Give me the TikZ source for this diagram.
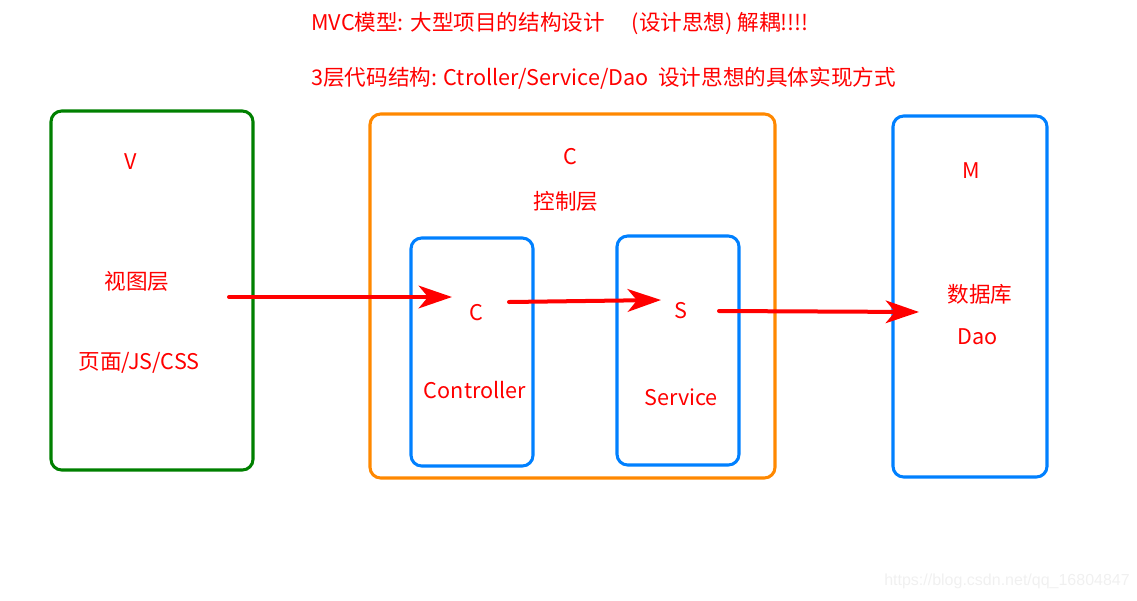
\documentclass[tikz,border=0pt]{standalone}
\usepackage{fontspec}
\setmainfont{Noto Sans CJK SC}
\newfontfamily\wmfont{Liberation Sans}
\usetikzlibrary{arrows.meta}

\definecolor{vgreen}{RGB}{0,128,0}
\definecolor{corange}{RGB}{255,136,0}
\definecolor{mblue}{RGB}{0,128,255}

\tikzset{
  layerbox/.style={line width=2.3pt, rounded corners=8pt},
  txt/.style={text=red, font=\fontsize{16.2}{19}\selectfont, inner sep=0pt},
  flow/.style={red, line width=3pt, line cap=round,
    -{Stealth[length=25pt, width=17pt, inset=7pt]}}
}

\begin{document}
\begin{tikzpicture}[x=0.75pt, y=-0.75pt]
  \useasboundingbox (0,0) rectangle (1137,600);
  % Headings
  \node[txt, anchor=west] (head1) at (311,24) {MVC模型: 大型项目的结构设计\hspace{1.25em}(设计思想) 解耦!!!!};
  \node[txt, anchor=west] (head2) at (311,78) {3层代码结构: Ctroller/Service/Dao\ \ 设计思想的具体实现方式};
  % View layer
  \draw[layerbox, vgreen] (51,111) rectangle (253,470);
  \node[txt] (vname) at (131,162) {V};
  \node[txt] (vlayer) at (137,281) {视图层};
  \node[txt] (vpage) at (139,363) {页面/JS/CSS};
  % Control layer
  \draw[layerbox, corange] (370,114) rectangle (775,478);
  \node[txt] (cname) at (570,157) {C};
  \node[txt] (clayer) at (566,201) {控制层};
  \draw[layerbox, mblue] (411,238) rectangle (533,466);
  \node[txt] (ctrl) at (476,313) {C};
  \node[txt] (ctrlname) at (475,390) {Controller};
  \draw[layerbox, mblue] (617,236) rectangle (739,465);
  \node[txt] (serv) at (681,311) {S};
  \node[txt] (servname) at (681,397) {Service};
  % Model layer
  \draw[layerbox, mblue] (893,116) rectangle (1047,477);
  \node[txt] (mname) at (971,171) {M};
  \node[txt] (mdb) at (980,294) {数据库};
  \node[txt] (mdao) at (978,337) {Dao};
  % Flow arrows
  \coordinate (a1s) at (229,297);
  \coordinate (a1e) at (452,297);
  \coordinate (a2s) at (509,302);
  \coordinate (a2e) at (661,300);
  \coordinate (a3s) at (719,311);
  \coordinate (a3e) at (919,312);
  \draw[flow] (a1s) -- (a1e);
  \draw[flow] (a2s) -- (a2e);
  \draw[flow] (a3s) -- (a3e);
  % Watermark
  \node[text=black!6, font=\wmfont\fontsize{12}{14}\selectfont, inner sep=0pt] (wm) at (1007,581) {https://blog.csdn.net/qq\_16804847};
\end{tikzpicture}
\end{document}
